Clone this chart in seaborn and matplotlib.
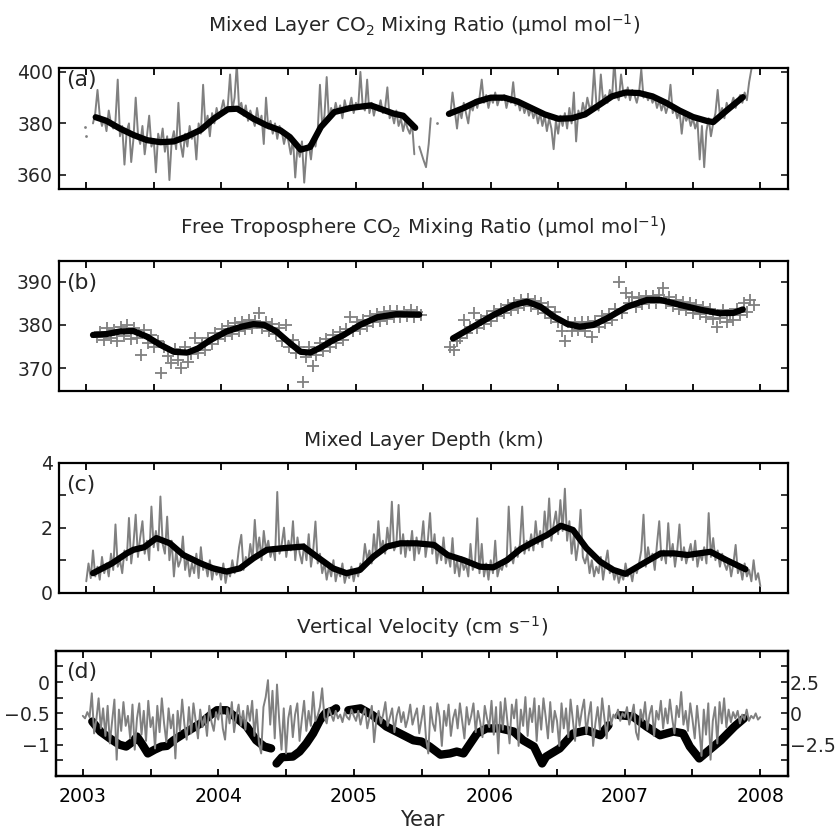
import numpy as np
import pandas as pd
import matplotlib
matplotlib.use("Agg")
import matplotlib.pyplot as plt
import seaborn as sns

# ---------------- data ----------------
STEP = 1.0 / 60.0          # sampling interval of the noisy series (years)

# (a) mixed-layer CO2, noisy record
ml_co2_start1 = 2003.05
ml_co2_1 = [380, 384, 393, 383, 379, 382, 377, 385, 380, 378,
            381, 397, 375, 379, 364, 377, 380, 365, 374, 390,
            376, 372, 379, 368, 375, 383, 371, 374, 361, 376,
            372, 378, 369, 375, 358, 373, 377, 370, 388, 372,
            367, 376, 371, 379, 374, 377, 366, 380, 376, 395,
            379, 383, 375, 384, 380, 386, 382, 385, 389, 384,
            387, 399, 385, 390, 403, 386, 388, 383, 387, 381,
            385, 382, 379, 386, 380, 383, 372, 390, 378, 381,
            376, 380, 374, 379, 377, 372, 376, 373, 368, 374,
            359, 371, 367, 373, 357, 369, 372, 366, 374, 371,
            377, 395, 379, 383, 398, 381, 386, 383, 388, 384,
            387, 382, 389, 385, 386, 390, 384, 388, 386, 400,
            387, 385, 397, 384, 388, 383, 387, 385, 389, 384,
            386, 394, 382, 384, 380, 385, 379, 382, 377, 381,
            378, 376, 380, 368]
ml_co2_start2 = 2005.70
ml_co2_2 = [383, 392, 385, 378, 386, 382, 388, 384, 380, 387,
            385, 389, 386, 390, 397, 388, 391, 386, 390, 388,
            392, 387, 390, 389, 391, 386, 390, 388, 396, 387,
            389, 385, 388, 384, 387, 383, 386, 382, 385, 380,
            384, 379, 383, 377, 382, 378, 370, 381, 376, 383,
            379, 384, 378, 386, 380, 392, 373, 385, 382, 388,
            384, 390, 386, 387, 401, 388, 385, 399, 389, 391,
            388, 393, 390, 405, 391, 389, 399, 392, 390, 394,
            389, 393, 391, 388, 392, 401, 390, 392, 389, 391,
            388, 390, 386, 389, 385, 388, 384, 387, 395, 384,
            386, 382, 385, 376, 384, 381, 383, 379, 382, 378,
            381, 366, 379, 363, 377, 382, 375, 380, 384, 393,
            383, 386, 382, 388, 385, 387, 390, 386, 389, 391,
            388, 392, 389, 396, 401, 404]
ml_co2_gap_t = [2005.47, 2005.50, 2005.52, 2005.54, 2005.555]
ml_co2_gap_v = [371, 366, 363, 372, 382]
ml_co2_dot_t = [2002.99, 2003.00, 2005.60]
ml_co2_dot_v = [378.5, 375.0, 380.0]

# (a) smoothed curve
ml_fit_t1 = [2003.07, 2003.15, 2003.25, 2003.35, 2003.45, 2003.55, 2003.65, 2003.75,
             2003.85, 2003.95, 2004.05, 2004.12, 2004.24, 2004.34, 2004.44, 2004.51,
             2004.59, 2004.66, 2004.74, 2004.84, 2004.96, 2005.11, 2005.28, 2005.35, 2005.44]
ml_fit_v1 = [382.4, 381.0, 378.0, 375.5, 373.5, 372.7, 373.0, 375.0,
             377.5, 382.0, 385.5, 385.7, 381.8, 379.2, 377.3, 374.7,
             369.8, 370.8, 378.6, 384.4, 386.0, 387.0, 383.8, 383.0, 378.3]
ml_fit_t2 = [2005.69, 2005.80, 2005.90, 2006.00, 2006.10, 2006.20, 2006.30, 2006.40,
             2006.50, 2006.60, 2006.70, 2006.80, 2006.90, 2007.00, 2007.10, 2007.20,
             2007.30, 2007.40, 2007.50, 2007.60, 2007.65, 2007.75, 2007.87]
ml_fit_v2 = [383.7, 386.0, 388.5, 390.0, 390.0, 388.5, 386.0, 383.5,
             381.8, 382.0, 383.5, 387.0, 390.5, 392.0, 391.8, 390.5,
             388.0, 385.0, 382.5, 381.0, 380.5, 385.0, 390.2]

# (b) free-troposphere CO2 samples (+ markers)
ft_step = 1.0 / 40.0
ft_start1 = 2003.08
ft_co2_1 = [377.2, 378.3, 376.5, 379.2, 377.0, 378.9, 376.2, 379.6, 377.5, 380.0,
            376.8, 379.4, 377.0, 373.1, 378.8, 375.9, 377.6, 374.8, 376.4, 368.8,
            375.0, 372.9, 371.2, 374.4, 372.0, 370.0, 374.8, 371.5, 373.2, 376.9,
            373.5, 375.8, 374.2, 377.0, 375.6, 378.2, 376.8, 379.0, 377.4, 379.8,
            378.0, 380.4, 378.6, 380.8, 379.0, 381.2, 379.4, 381.0, 382.7, 379.2,
            380.8, 378.6, 380.2, 377.8, 379.4, 376.2, 380.0, 374.8, 376.6, 373.5,
            375.0, 366.9, 372.6, 374.8, 370.4, 373.0, 375.8, 373.9, 376.7, 375.0,
            377.6, 375.8, 378.4, 376.6, 379.0, 381.9, 378.6, 380.6, 379.0, 381.2,
            379.8, 382.0, 380.6, 382.6, 381.0, 383.0, 381.4, 383.2, 381.8, 383.3,
            381.8, 383.0, 382.0, 383.4, 381.8, 383.0, 382.3]
ft_start2 = 2005.70
ft_co2_2 = [375.0, 374.2, 376.4, 377.0, 381.2, 378.2, 379.6, 382.7, 379.4, 381.2,
            380.2, 382.0, 381.0, 383.2, 382.0, 383.8, 382.8, 384.6, 383.4, 385.0,
            384.0, 385.8, 384.6, 386.0, 384.4, 385.6, 383.8, 385.0, 382.8, 384.2,
            381.6, 383.0, 380.6, 378.5, 376.2, 380.8, 378.6, 380.4, 378.8, 380.6,
            378.6, 380.8, 377.3, 381.0, 379.6, 382.0, 380.4, 382.6, 381.2, 383.6,
            390.0, 382.8, 387.3, 385.0, 386.5, 384.2, 386.2, 384.8, 386.8, 385.0,
            386.6, 385.2, 387.0, 388.5, 385.0, 386.4, 384.4, 385.8, 383.8, 385.4,
            383.4, 385.0, 382.8, 384.6, 382.6, 384.2, 381.8, 383.6, 381.4, 379.6,
            381.6, 383.4, 380.8, 382.6, 381.2, 383.6, 382.4, 385.0, 383.0, 385.8,
            384.6]
ft_fit_t1 = [2003.05, 2003.15, 2003.25, 2003.35, 2003.45, 2003.55, 2003.65, 2003.75,
             2003.83, 2003.92, 2004.04, 2004.15, 2004.24, 2004.32, 2004.41, 2004.51,
             2004.59, 2004.66, 2004.74, 2004.82, 2004.91, 2005.03, 2005.16, 2005.30, 2005.47]
ft_fit_v1 = [377.7, 377.9, 378.5, 378.6, 377.3, 375.4, 373.8, 373.6,
             374.6, 376.5, 378.5, 379.6, 380.2, 380.0, 378.5, 375.8,
             373.8, 373.6, 374.8, 376.3, 377.7, 380.0, 381.8, 382.5, 382.4]
ft_fit_t2 = [2005.72, 2005.87, 2006.02, 2006.17, 2006.27, 2006.37, 2006.47, 2006.57,
             2006.66, 2006.76, 2006.86, 2007.01, 2007.16, 2007.26, 2007.41, 2007.56,
             2007.70, 2007.80, 2007.87]
ft_fit_v2 = [376.9, 379.6, 382.3, 384.6, 385.4, 384.2, 381.9, 380.2,
             379.6, 380.0, 381.5, 384.2, 385.8, 385.8, 384.6, 383.5,
             382.7, 382.8, 383.6]

# (c) mixed-layer depth (km)
mld_start = 2003.0
mld = [0.35, 0.9, 0.45, 1.3, 0.5, 0.8,
       0.4, 1.1, 0.6, 0.9, 0.5, 1.2, 0.7, 2.1, 0.8, 1.0, 0.6, 1.3,
       1.0, 2.3, 0.9, 1.5, 2.4, 1.1, 1.7, 2.2, 1.2, 1.6, 1.0, 2.65, 1.4, 1.9, 1.3,
       2.96, 1.5, 1.2, 2.34, 1.0, 1.6, 0.5, 1.3, 0.8,
       1.0, 1.73, 0.7, 1.1, 0.5, 0.9, 0.6, 1.2, 0.45, 1.4, 0.7, 0.9, 0.5, 1.0, 0.4, 0.8, 0.55, 0.7,
       0.4, 0.9, 0.3, 0.7, 0.5, 1.0, 0.6, 0.8, 1.4, 1.78, 0.7, 1.1,
       0.9, 1.5, 1.0, 2.24, 1.2, 1.7, 1.0, 1.9, 1.3, 1.6, 1.1, 1.4, 1.0, 3.1, 1.2, 1.5,
       2.0, 1.1, 1.6, 1.3, 2.2, 1.0, 1.7, 1.2,
       0.9, 1.5, 1.0, 1.8, 0.8, 1.3, 2.19, 0.9, 1.2,
       0.6, 0.9, 0.4, 0.8, 0.5, 1.0, 0.35, 0.7, 0.5, 0.9, 0.3, 0.6, 0.45, 0.8, 0.35, 0.7, 0.5, 0.9,
       0.8, 1.5, 1.0, 1.3, 0.9, 1.8, 1.1, 2.2, 1.3, 1.6, 1.2, 2.0, 1.4, 2.8, 1.3,
       1.5, 2.7, 1.2, 1.8, 1.1, 1.6, 1.3, 1.9, 1.0, 1.7, 1.2, 1.5,
       2.2, 1.1, 1.6, 2.45, 1.2, 1.8, 0.9, 1.4, 1.0, 1.7, 0.9, 1.2,
       0.8, 1.68, 0.6, 1.0, 0.5, 1.1, 0.7, 0.9, 0.5, 1.5, 0.7, 0.9,
       2.29, 0.6, 1.5, 0.5, 0.9, 0.4, 1.0, 0.6, 1.6, 0.5, 0.8, 0.7,
       1.0, 0.8, 2.65, 1.2, 0.9, 1.4, 1.1, 1.5, 2.65, 1.2, 1.6, 1.3,
       1.8, 1.3, 2.2, 1.5, 1.9, 1.4, 2.5, 1.7, 2.9, 1.6, 2.1, 2.5, 1.8, 2.85, 1.9,
       3.2, 1.6, 2.2, 1.2, 1.8, 1.0, 1.5, 2.55, 1.1,
       0.9, 1.2, 0.6, 1.0, 0.5, 0.8, 0.6, 1.1, 0.4, 0.9, 1.3, 0.6, 0.8, 0.4, 0.7,
       0.3, 0.6, 0.4, 0.9, 0.5, 0.7, 0.35, 0.8, 0.6,
       0.9, 1.3, 2.4, 0.8, 1.4, 1.0, 1.2, 0.7, 1.5, 2.2, 1.0, 1.3,
       0.9, 2.14, 1.1, 1.5, 0.8, 1.3, 2.1, 1.0, 1.4, 0.9, 1.2, 1.5,
       1.0, 1.6, 0.8, 1.2, 1.0, 1.4, 0.9, 2.45, 1.1, 1.68, 1.0, 1.3, 0.8, 1.2, 0.9,
       0.7, 1.0, 0.5, 0.9, 1.47, 0.6, 0.8, 0.4, 0.9, 0.5, 0.7, 0.35, 1.0, 0.4, 0.6, 0.2]
mld_fit_t = [2003.05, 2003.19, 2003.30, 2003.35, 2003.43, 2003.52, 2003.62, 2003.72,
             2003.85, 2003.94, 2004.04, 2004.14, 2004.24, 2004.34, 2004.46, 2004.61,
             2004.71, 2004.83, 2004.93, 2005.03, 2005.13, 2005.23, 2005.33, 2005.45,
             2005.58, 2005.68, 2005.80, 2005.92, 2006.02, 2006.12, 2006.22, 2006.32,
             2006.42, 2006.52, 2006.61, 2006.71, 2006.81, 2006.91, 2007.00, 2007.11,
             2007.26, 2007.36, 2007.46, 2007.63, 2007.75, 2007.89]
mld_fit_v = [0.60, 0.90, 1.21, 1.32, 1.40, 1.68, 1.52, 1.16,
             0.90, 0.75, 0.65, 0.75, 1.06, 1.32, 1.37, 1.42,
             1.11, 0.75, 0.60, 0.70, 1.11, 1.42, 1.52, 1.52,
             1.47, 1.16, 1.00, 0.80, 0.78, 1.00, 1.34, 1.57,
             1.78, 2.06, 1.93, 1.37, 0.96, 0.70, 0.58, 0.85,
             1.21, 1.21, 1.16, 1.26, 1.00, 0.72]

# (d) vertical velocity: noisy record (right axis) and smoothed (left axis)
w_start = 2003.0
w_raw = [-0.2, -0.4, 0.1, -0.3, 1.6, -1.6,
         -0.5, 1.2, -1.2, 0.4, -1.8, 0.6, -2.4, -0.6, 1.1, -3.7, 0.3, -1.4,
         0.9, -1.0, -0.2, -2.0, 0.7, -2.9, -0.4, 0.8, -1.7, 0.2, -2.2, 1.0, -1.1, -0.3, -2.8,
         0.6, -1.5, 1.2, -0.8, -2.3, 0.4, -1.2, -0.1, -3.6,
         0.2, -1.4, 1.1, -0.9, -2.1, 0.5, -1.6, 0.8, -0.6, -2.0, 0.3, -1.1, -0.2, -1.8, 0.6, -0.7, -1.4, 0.1,
         -0.5, 0.8, -1.2, -2.1, 0.4, -0.8, 0.9, -1.5, -0.2, 0.7, -1.0, 0.2,
         -1.3, 0.6, -0.6, 1.0, -1.8, 0.3, -2.4, -3.2, 0.5,
         1.3, 2.65, -0.9, 1.8, -2.0, 2.3, -0.6, -2.9, 0.4,
         -3.2, -0.4, 0.6, -1.9, -0.1, 0.8, -2.2, -0.5, 1.0, -1.4, 0.2, -1.0, 1.7, -0.6, -0.2, 0.5,
         2.0, -0.3, -0.8, 0.4, -0.1, -0.6, 0.2, -0.4, -0.1, -0.7, 0.1, -0.3, -0.5, 0.3, -0.2,
         -0.6, 0.2, -0.9, -0.1, 0.4, -1.2, -0.3, 0.6, -2.3, -0.5, 0.2, -0.8, -0.1, 0.9, -1.0,
         -0.3, 0.4, -1.5, -0.2, 0.5, -0.7, 0.1, -1.1, -0.4, 0.7, -0.9, -0.2,
         0.4, -1.6, -0.5, 0.6, -2.0, -3.2, 0.5, -0.8, -1.4, 0.8, -0.3, -2.6, 0.2, -1.0, 0.7,
         -1.8, -0.4, 0.3, -1.2, 0.8, -0.6, -2.0, 0.5, -0.9, -0.2, 0.8, -1.5, 0.2, -0.7, -1.9,
         0.6, -0.4, -1.1,
         1.0, -1.7, 0.5, -3.2, 0.9, -1.3, 1.2, -0.6, -2.4, 0.7, -0.4, 1.1, -2.6, 0.3, -1.0,
         1.3, -1.8, 0.4, -0.7, 1.2, -2.2, 0.6, -1.3, 1.2, -0.3, -2.0, 0.9, -1.5, 0.2, -0.6,
         -2.6, 0.8, -1.2, 0.4, -1.9, 1.1, -0.5, -2.2, 0.6, -1.0, 0.2, 1.1, -1.6, -0.2, 0.9,
         -2.6, -0.8, 0.5, -1.3, 1.2, -0.4, -2.0, 0.6, -0.9,
         -0.1, -0.4, 0.3, -0.6, 0.0, -0.3,
         0.5, -0.9, -0.2, 0.7, -1.5, -2.1, 0.3, -0.6, 0.9, -1.3, -0.1, 0.6, -1.8, 0.2, -0.5,
         1.0, -1.2, 0.4, -0.8, 1.1, -0.4, -1.6, 0.6, -0.3, 1.7, -0.9, 0.2, -1.4, 0.8, -0.5,
         -2.0, 0.6, -1.2, -3.4, 0.3, -1.7, 0.8, -3.7, -0.6, 0.5, -2.4, 0.9, -0.8, 1.2, -1.1,
         0.3, -0.7, 0.1, -0.4, 0.2, -0.8, -0.1, -0.5, 0.3, -0.6, -0.2, -0.4, 0.0, -0.5, -0.3]
w_fit_t1 = [2003.07, 2003.13, 2003.20, 2003.27, 2003.32, 2003.37, 2003.40, 2003.44,
            2003.48, 2003.53, 2003.58, 2003.62, 2003.67, 2003.77, 2003.87, 2003.94,
            2003.99, 2004.06, 2004.11, 2004.21, 2004.28, 2004.34, 2004.39]
w_fit_v1 = [-0.63, -0.79, -0.90, -1.00, -1.03, -0.95, -0.87, -1.00,
            -1.14, -1.08, -1.03, -1.02, -0.93, -0.79, -0.66, -0.53,
            -0.45, -0.45, -0.53, -0.71, -0.93, -1.03, -1.06]
w_fit_t2 = [2004.43, 2004.47, 2004.55, 2004.60, 2004.65, 2004.70, 2004.75, 2004.79,
            2004.85, 2004.87]
w_fit_v2 = [-1.30, -1.20, -1.19, -1.11, -0.98, -0.82, -0.61, -0.50, -0.45, -0.42]
w_fit_t3 = [2004.96, 2005.05, 2005.14, 2005.24, 2005.34, 2005.44, 2005.50, 2005.56,
            2005.64, 2005.71, 2005.76, 2005.81, 2005.86, 2005.91, 2005.98, 2006.08,
            2006.18, 2006.25, 2006.33, 2006.39, 2006.42, 2006.52, 2006.62, 2006.72,
            2006.82, 2006.88]
w_fit_v3 = [-0.45, -0.42, -0.53, -0.71, -0.82, -0.93, -0.95, -1.03,
            -1.16, -1.14, -1.11, -1.14, -0.98, -0.82, -0.74, -0.74,
            -0.79, -0.93, -1.03, -1.30, -1.19, -1.06, -0.82, -0.77,
            -0.85, -0.69]
w_fit_t4 = [2006.96, 2007.06, 2007.16, 2007.26, 2007.36, 2007.43, 2007.48, 2007.55,
            2007.61, 2007.71, 2007.81, 2007.88]
w_fit_v4 = [-0.53, -0.55, -0.71, -0.85, -0.79, -0.82, -1.03, -1.22,
            -1.11, -0.93, -0.71, -0.58]

year_ticks = [2003, 2003.5, 2004, 2004.5, 2005, 2005.5, 2006, 2006.5, 2007, 2007.5, 2008]
year_labels = ["2003", "", "2004", "", "2005", "", "2006", "", "2007", "", "2008"]

# ---------------- style ----------------
sns.set_style("ticks")
plt.rcParams["font.family"] = ["DejaVu Sans"]
plt.rcParams["mathtext.fontset"] = "dejavusans"
FS_TICK = 13.6
FS_TITLE = 14.3
FS_LETTER = 15.8
FS_XLABEL = 15.0
GRAY = "#808080"
W, H = 839, 832

fig = plt.figure(figsize=(W / 100, H / 100), dpi=100)


def axes_px(left, top, right, bottom):
    return fig.add_axes([left / W, 1 - bottom / H, (right - left) / W, (bottom - top) / H])


ax_a = axes_px(59.3, 68.3, 788, 188.8)
ax_b = axes_px(59.3, 261, 788, 390.7)
ax_c = axes_px(59.3, 462.7, 788, 592.7)
ax_d = axes_px(55.7, 650.7, 788, 776)
ax_d2 = ax_d.twinx()


def reg_times(start, step, n):
    return start + step * np.arange(n)


def line(ax, t, v, color, lw, z):
    df = pd.DataFrame({"t": t, "v": v})
    sns.lineplot(data=df, x="t", y="v", ax=ax, color=color, linewidth=lw,
                 estimator=None, sort=False, zorder=z)


# (a)
line(ax_a, reg_times(ml_co2_start1, STEP, len(ml_co2_1)), ml_co2_1, GRAY, 1.4, 2)
line(ax_a, reg_times(ml_co2_start2, STEP, len(ml_co2_2)), ml_co2_2, GRAY, 1.4, 2)
line(ax_a, ml_co2_gap_t, ml_co2_gap_v, GRAY, 1.4, 2)
sns.scatterplot(x=ml_co2_dot_t, y=ml_co2_dot_v, ax=ax_a, color=GRAY, s=4, linewidth=0, zorder=2)
line(ax_a, ml_fit_t1, ml_fit_v1, "black", 4.5, 3)
line(ax_a, ml_fit_t2, ml_fit_v2, "black", 4.5, 3)

# (b)
for st, vals in [(ft_start1, ft_co2_1), (ft_start2, ft_co2_2)]:
    sns.scatterplot(x=reg_times(st, ft_step, len(vals)), y=vals, ax=ax_b, marker="+",
                    color=GRAY, s=70, linewidth=1.3, zorder=2)
line(ax_b, ft_fit_t1, ft_fit_v1, "black", 4.5, 3)
line(ax_b, ft_fit_t2, ft_fit_v2, "black", 4.5, 3)

# (c)
line(ax_c, reg_times(mld_start, STEP, len(mld)), mld, GRAY, 1.4, 2)
line(ax_c, mld_fit_t, mld_fit_v, "black", 4.5, 3)

# (d)
for tt, vv in [(w_fit_t1, w_fit_v1), (w_fit_t2, w_fit_v2), (w_fit_t3, w_fit_v3), (w_fit_t4, w_fit_v4)]:
    line(ax_d, tt, vv, "black", 6.0, 2)
line(ax_d2, reg_times(w_start, STEP, len(w_raw)), w_raw, GRAY, 1.4, 3)

# ---------------- axes formatting ----------------
for ax in (ax_a, ax_b, ax_c, ax_d, ax_d2):
    ax.set_xlabel("")
    ax.set_ylabel("")
    for sp in ax.spines.values():
        sp.set_visible(True)
        sp.set_linewidth(1.6)
        sp.set_color("black")

for ax in (ax_a, ax_b, ax_c, ax_d):
    ax.set_xlim(2002.8, 2008.205)
    ax.set_xticks(year_ticks)
    ax.set_xticklabels(year_labels)
    ax.tick_params(axis="x", direction="in", length=5, width=1.3, top=True, bottom=True,
                   labelsize=FS_TICK, pad=8, colors="black")

for ax in (ax_a, ax_b, ax_c):
    ax.tick_params(axis="x", labelbottom=False)
    ax.tick_params(axis="y", direction="in", length=5, width=1.3, left=True, right=True,
                   labelsize=FS_TICK, pad=4.5)

ax_a.set_ylim(354.6, 401.4)
ax_a.set_yticks([360, 380, 400])
ax_b.set_ylim(364.8, 394.8)
ax_b.set_yticks([370, 380, 390])
ax_c.set_ylim(0, 4)
ax_c.set_yticks([0, 1, 2, 3, 4])
ax_c.set_yticklabels(["0", "", "2", "", "4"])

ax_d.set_ylim(-1.5, 0.5)
ax_d.set_yticks([-1.25, -1, -0.75, -0.5, -0.25, 0, 0.25])
ax_d.set_yticklabels(["", "\u22121", "", "\u22120.5", "", "0", ""])
ax_d.tick_params(axis="y", direction="in", length=5, width=1.3, left=True, right=False,
                 labelsize=FS_TICK, pad=4.5)
ax_d2.set_ylim(-5, 5)
ax_d2.set_yticks([-3.75, -2.5, -1.25, 0, 1.25, 2.5, 3.75])
ax_d2.set_yticklabels(["", "\u22122.5", "", "0", "", "2.5", ""])
ax_d2.tick_params(axis="y", direction="in", length=5, width=1.3, right=True, left=False,
                  labelsize=FS_TICK, pad=1.5)
ax_d.set_xlabel("Year", fontsize=FS_XLABEL, labelpad=3)

# titles
ax_a.set_title("Mixed Layer CO$_2$ Mixing Ratio (\u00b5mol mol$^{\u22121}$)", fontsize=FS_TITLE, y=1.0, pad=26)
ax_b.set_title("Free Troposphere CO$_2$ Mixing Ratio (\u00b5mol mol$^{\u22121}$)", fontsize=FS_TITLE, y=1.0, pad=19.4)
ax_c.set_title("Mixed Layer Depth (km)", fontsize=FS_TITLE, y=1.0, pad=12)
ax_d.set_title("Vertical Velocity (cm s$^{\u22121}$)", fontsize=FS_TITLE, y=1.0, pad=12.5)

# panel letters
for ax, lab, yf, xf in [(ax_a, "(a)", 0.90, 0.009), (ax_b, "(b)", 0.827, 0.009),
                        (ax_c, "(c)", 0.828, 0.009), (ax_d, "(d)", 0.83, 0.014)]:
    ax.text(xf, yf, lab, transform=ax.transAxes, fontsize=FS_LETTER, va="center", ha="left", zorder=5)

fig.savefig("out.png", dpi=100)
